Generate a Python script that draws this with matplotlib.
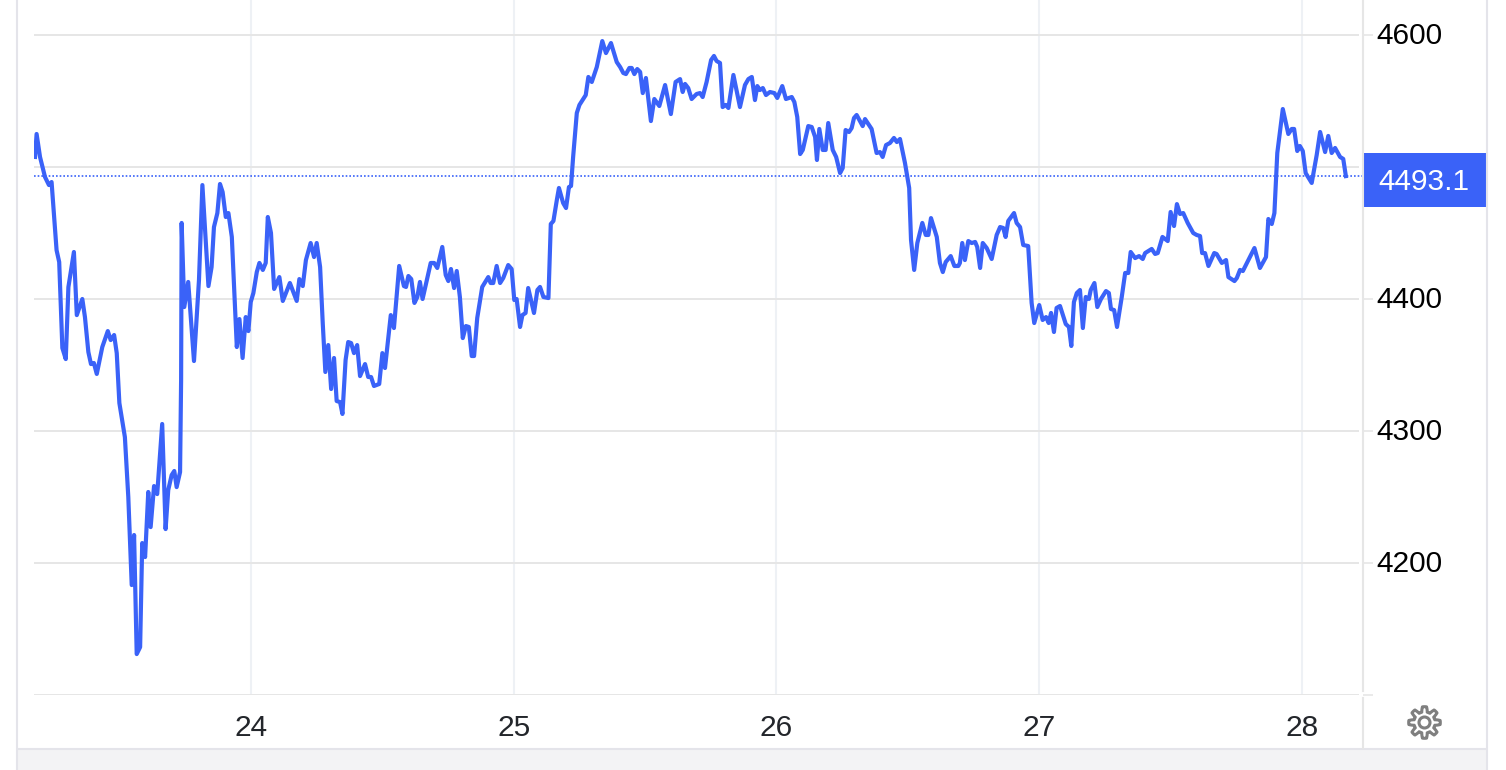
import numpy as np
import matplotlib
matplotlib.use('Agg')
import matplotlib.pyplot as plt
from matplotlib.patches import Rectangle, Circle, Polygon
from matplotlib.transforms import ScaledTranslation

plt.rcParams['font.family'] = ['Liberation Sans', 'DejaVu Sans']

BLUE = '#3a62f8'
GRID_H = '#e6e6e6'
GRID_V = '#eef1f5'
BORDER = '#e4e4ea'

# day of month
days = [
    23.178, 23.184, 23.197, 23.216, 23.231, 23.241, 23.260, 23.270, 23.282, 23.295,
    23.305, 23.326, 23.337, 23.358, 23.368, 23.381, 23.391, 23.402, 23.413, 23.434,
    23.455, 23.466, 23.479, 23.489, 23.499, 23.520, 23.533, 23.546, 23.555, 23.565,
    23.578, 23.586, 23.597, 23.609, 23.618, 23.631, 23.643, 23.662, 23.675, 23.685,
    23.698, 23.708, 23.717, 23.730, 23.734, 23.736, 23.746, 23.761, 23.783, 23.802,
    23.815, 23.838, 23.850, 23.859, 23.872, 23.882, 23.892, 23.904, 23.914, 23.927,
    23.946, 23.956, 23.968, 23.980, 23.990, 23.999, 24.009, 24.022, 24.032, 24.045,
    24.056, 24.064, 24.076, 24.088, 24.108, 24.121, 24.148, 24.174, 24.184, 24.197,
    24.209, 24.227, 24.240, 24.250, 24.263, 24.273, 24.283, 24.294, 24.305, 24.316,
    24.326, 24.339, 24.348, 24.360, 24.370, 24.381, 24.392, 24.404, 24.415, 24.434,
    24.446, 24.457, 24.468, 24.488, 24.500, 24.510, 24.532, 24.544, 24.564, 24.582,
    24.590, 24.599, 24.610, 24.622, 24.633, 24.643, 24.653, 24.684, 24.697, 24.709,
    24.728, 24.741, 24.751, 24.761, 24.773, 24.783, 24.795, 24.806, 24.818, 24.829,
    24.840, 24.849, 24.861, 24.880, 24.903, 24.912, 24.922, 24.935, 24.948, 24.960,
    24.979, 24.992, 25.002, 25.011, 25.024, 25.033, 25.045, 25.055, 25.077, 25.090,
    25.100, 25.113, 25.132, 25.141, 25.151, 25.164, 25.172, 25.188, 25.199, 25.210,
    25.218, 25.226, 25.240, 25.250, 25.274, 25.284, 25.297, 25.316, 25.337, 25.351,
    25.370, 25.392, 25.405, 25.417, 25.427, 25.440, 25.449, 25.459, 25.470, 25.481,
    25.491, 25.503, 25.522, 25.535, 25.554, 25.576, 25.598, 25.616, 25.633, 25.643,
    25.652, 25.664, 25.677, 25.696, 25.709, 25.719, 25.734, 25.751, 25.762, 25.772,
    25.785, 25.795, 25.807, 25.817, 25.836, 25.861, 25.880, 25.893, 25.906, 25.918,
    25.927, 25.937, 25.948, 25.960, 25.975, 25.992, 26.003, 26.022, 26.036, 26.058,
    26.068, 26.079, 26.090, 26.100, 26.121, 26.134, 26.147, 26.154, 26.163, 26.176,
    26.187, 26.197, 26.214, 26.227, 26.242, 26.252, 26.263, 26.276, 26.286, 26.295,
    26.305, 26.328, 26.337, 26.362, 26.381, 26.394, 26.404, 26.417, 26.432, 26.447,
    26.458, 26.470, 26.489, 26.505, 26.512, 26.524, 26.536, 26.555, 26.568, 26.578,
    26.588, 26.610, 26.622, 26.633, 26.644, 26.663, 26.677, 26.692, 26.698, 26.707,
    26.717, 26.730, 26.743, 26.756, 26.764, 26.775, 26.785, 26.800, 26.819, 26.838,
    26.851, 26.863, 26.872, 26.882, 26.904, 26.914, 26.927, 26.939, 26.958, 26.971,
    26.981, 27.000, 27.013, 27.026, 27.036, 27.045, 27.056, 27.066, 27.079, 27.101,
    27.113, 27.122, 27.132, 27.143, 27.155, 27.166, 27.177, 27.189, 27.196, 27.210,
    27.221, 27.235, 27.254, 27.265, 27.273, 27.285, 27.296, 27.314, 27.327, 27.339,
    27.348, 27.365, 27.380, 27.394, 27.403, 27.428, 27.441, 27.451, 27.469, 27.489,
    27.500, 27.513, 27.524, 27.536, 27.548, 27.565, 27.586, 27.599, 27.612, 27.620,
    27.631, 27.644, 27.666, 27.675, 27.695, 27.711, 27.720, 27.743, 27.752, 27.764,
    27.775, 27.819, 27.840, 27.863, 27.872, 27.885, 27.895, 27.906, 27.927, 27.948,
    27.961, 27.970, 27.982, 27.992, 28.003, 28.014, 28.037, 28.056, 28.069, 28.088,
    28.100, 28.113, 28.126, 28.145, 28.157, 28.167,
]

prices = [
    4507.6, 4525.0, 4507.6, 4492.4, 4486.3, 4488.6, 4437.0, 4428.0, 4362.9, 4354.5,
    4409.0, 4435.6, 4387.8, 4400.0, 4386.3, 4359.8, 4350.7, 4351.5, 4343.2, 4363.6,
    4375.7, 4368.9, 4372.7, 4359.0, 4321.2, 4295.4, 4250.0, 4183.3, 4221.2, 4131.0,
    4136.3, 4215.1, 4204.5, 4253.8, 4227.2, 4258.3, 4252.2, 4305.3, 4225.7, 4255.3,
    4266.6, 4269.7, 4257.5, 4268.9, 4338.6, 4457.6, 4393.9, 4412.9, 4353.0, 4414.4,
    4486.3, 4409.8, 4424.2, 4454.5, 4465.1, 4487.1, 4481.0, 4462.1, 4465.1, 4447.0,
    4363.6, 4384.8, 4355.3, 4386.3, 4375.7, 4397.7, 4404.5, 4420.4, 4427.3, 4422.0,
    4427.3, 4462.1, 4450.0, 4407.6, 4416.6, 4398.5, 4412.1, 4398.5, 4415.1, 4409.8,
    4429.5, 4442.4, 4431.8, 4442.4, 4424.2, 4381.8, 4344.7, 4365.1, 4331.8, 4355.3,
    4322.7, 4321.9, 4312.9, 4353.8, 4367.4, 4366.6, 4359.0, 4365.1, 4341.6, 4350.7,
    4340.9, 4340.9, 4334.1, 4335.6, 4359.0, 4347.7, 4387.8, 4378.0, 4425.0, 4409.8,
    4409.1, 4417.4, 4415.1, 4397.0, 4401.5, 4412.9, 4400.0, 4427.3, 4427.3, 4423.5,
    4439.4, 4418.2, 4413.6, 4422.7, 4408.3, 4421.2, 4401.5, 4370.4, 4379.5, 4378.8,
    4356.8, 4356.8, 4385.6, 4409.1, 4416.6, 4412.1, 4412.1, 4425.0, 4412.1, 4415.9,
    4425.7, 4422.7, 4399.2, 4400.0, 4378.8, 4387.8, 4389.4, 4408.3, 4389.4, 4406.8,
    4409.1, 4401.5, 4400.7, 4456.8, 4459.1, 4475.0, 4484.1, 4472.7, 4468.9, 4484.8,
    4485.6, 4507.6, 4540.9, 4547.0, 4554.5, 4568.2, 4564.4, 4575.7, 4595.4, 4586.3,
    4593.9, 4579.5, 4575.7, 4571.2, 4570.4, 4575.0, 4575.0, 4570.4, 4574.2, 4572.0,
    4556.0, 4567.4, 4534.8, 4551.5, 4546.2, 4562.1, 4540.1, 4564.4, 4566.6, 4556.8,
    4562.9, 4559.8, 4551.5, 4555.3, 4556.0, 4553.0, 4564.4, 4581.0, 4584.1, 4580.3,
    4578.8, 4545.4, 4547.0, 4544.7, 4569.7, 4545.4, 4562.1, 4566.6, 4568.2, 4550.7,
    4561.3, 4558.3, 4559.8, 4554.5, 4556.8, 4556.0, 4552.3, 4561.3, 4551.5, 4553.0,
    4549.2, 4537.9, 4509.8, 4512.9, 4531.0, 4530.3, 4522.7, 4505.3, 4528.8, 4512.9,
    4512.9, 4533.3, 4512.9, 4507.6, 4495.4, 4499.2, 4528.0, 4526.5, 4529.5, 4537.1,
    4539.4, 4531.0, 4536.3, 4528.8, 4510.6, 4511.3, 4507.6, 4516.6, 4518.2, 4522.0,
    4518.9, 4521.2, 4503.0, 4484.1, 4444.7, 4422.0, 4442.4, 4457.6, 4448.5, 4448.5,
    4461.3, 4447.0, 4427.3, 4420.4, 4428.0, 4432.5, 4425.0, 4425.0, 4427.3, 4442.4,
    4429.5, 4443.9, 4442.4, 4443.2, 4439.4, 4423.5, 4442.4, 4438.6, 4430.3, 4448.5,
    4454.5, 4453.8, 4447.0, 4459.1, 4465.1, 4457.6, 4454.5, 4440.9, 4440.1, 4397.0,
    4381.8, 4395.4, 4384.1, 4386.3, 4381.8, 4389.4, 4375.0, 4393.2, 4394.7, 4381.0,
    4378.8, 4364.4, 4397.7, 4404.5, 4406.8, 4378.0, 4401.5, 4400.0, 4406.8, 4412.1,
    4393.9, 4400.0, 4406.0, 4404.5, 4392.4, 4391.6, 4378.8, 4401.5, 4419.7, 4419.7,
    4435.6, 4431.0, 4432.5, 4430.3, 4434.8, 4437.9, 4434.1, 4434.8, 4447.0, 4443.9,
    4465.9, 4455.3, 4471.9, 4464.4, 4465.1, 4457.6, 4450.0, 4448.5, 4447.7, 4434.8,
    4434.8, 4425.0, 4434.8, 4434.1, 4427.3, 4429.5, 4416.6, 4413.6, 4415.9, 4422.0,
    4421.2, 4438.6, 4423.5, 4431.8, 4460.6, 4456.8, 4465.1, 4510.6, 4543.9, 4525.0,
    4528.8, 4528.8, 4512.1, 4515.9, 4512.1, 4495.4, 4487.9, 4509.1, 4526.5, 4511.3,
    4523.5, 4510.6, 4514.4, 4507.6, 4506.1, 4493.1,
]

x_ticks = [24, 25, 26, 27, 28]
y_ticks = [4100, 4200, 4300, 4400, 4500, 4600]
y_labels = ['', '4200', '4300', '4400', '', '4600']

W, H = 1506, 770
fig = plt.figure(figsize=(W / 100, H / 100), dpi=100, facecolor='white')

# plot area runs from x=34 to 1362.5 px and y=0 to 695 px
ax = fig.add_axes([34 / W, (H - 695) / H, (1362.5 - 34) / W, 695 / H])
ax.set_xlim(23.1741, 28.2303)
ax.set_ylim(4100, 4626.5)
for spine in ax.spines.values():
    spine.set_visible(False)

ax.set_xticks(x_ticks)
ax.set_yticks(y_ticks)
ax.set_yticklabels(y_labels)
ax.yaxis.tick_right()
ax.tick_params(axis='y', length=7, width=1.2, color=GRID_H, pad=2.8,
               labelsize=21.5, labelcolor='black')
ax.tick_params(axis='x', length=0, pad=13.5, labelsize=21.5, labelcolor='#23262b')
ax.set_axisbelow(True)
ax.grid(axis='y', color=GRID_H, linewidth=1.4, zorder=0)
ax.grid(axis='x', color=GRID_V, linewidth=1.5, zorder=0)

# price labels sit slightly above their grid lines
nudge = ScaledTranslation(0, 2 / 100, fig.dpi_scale_trans)
for label in ax.get_yticklabels():
    label.set_transform(label.get_transform() + nudge)

# small gap between the grid lines and the price scale
ax.add_patch(Rectangle((1359 / W, 0), 4 / W, 1, transform=fig.transFigure,
                       facecolor='white', edgecolor='none', zorder=1))

ax.axhline(prices[-1], color=BLUE, linewidth=1.2, linestyle=(0, (1, 1.2)), zorder=2)
ax.plot(days, prices, color=BLUE, linewidth=3.0, solid_joinstyle='round', zorder=3)

# page furniture, in pixel coordinates
ov = fig.add_axes([0, 0, 1, 1], facecolor='none')
ov.set_xlim(0, W)
ov.set_ylim(H, 0)
ov.axis('off')

ov.add_patch(Rectangle((18, 749), 1468, 21, facecolor='#f3f3f5', edgecolor='none'))
ov.plot([18, 1486], [748.5, 748.5], color=BORDER, lw=1.5)
ov.plot([17, 17], [0, 770], color=BORDER, lw=1.5)
ov.plot([1487, 1487], [0, 770], color=BORDER, lw=1.5)
ov.plot([1363, 1363], [0, 691], color=GRID_H, lw=1.5)
ov.plot([1363, 1363], [698, 748], color=GRID_H, lw=1.5)

ov.add_patch(Rectangle((1364, 153), 122, 54, facecolor=BLUE, edgecolor='none'))
ov.text(1424, 182, f'{prices[-1]:.1f}', color='white', fontsize=21.5,
        ha='center', va='center')

# settings icon
t = np.linspace(0, 2 * np.pi, 240, endpoint=False)
r = 13.2 + 2.6 * np.clip(1.9 * np.cos(8 * t), -1, 1)
ov.add_patch(Polygon(np.column_stack([1424.5 + r * np.cos(t), 722.5 + r * np.sin(t)]),
                     closed=True, facecolor='white', edgecolor='#7f7f7f', lw=2.2))
ov.add_patch(Circle((1424.5, 722.5), 5.5, facecolor='white', edgecolor='#7f7f7f', lw=2.2))

fig.savefig('out.png', dpi=100)
